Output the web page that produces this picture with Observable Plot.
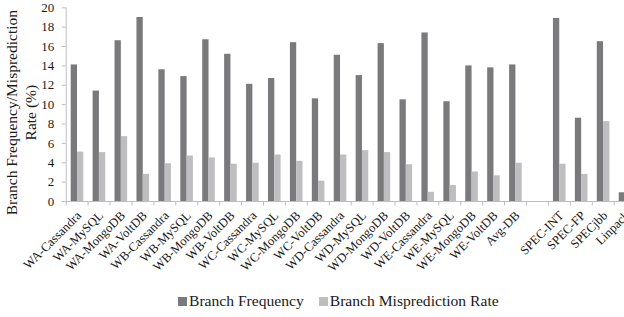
<!DOCTYPE html>
<html>
<head>
<meta charset="utf-8">
<script src="https://cdn.jsdelivr.net/npm/d3@7"></script>
<script src="https://cdn.jsdelivr.net/npm/@observablehq/plot@0.6"></script>
<style>
  html, body { margin: 0; padding: 0; background: #fff; overflow: hidden; }
  #wrap { position: relative; width: 624px; height: 317px; overflow: hidden; }
  #legend { position: absolute; left: 178px; top: 292px; display: flex; align-items: center;
    font-family: "Liberation Serif", "Times New Roman", serif; font-size: 15.6px; color: #1a1a1a; line-height: 18px; white-space: nowrap; }
  #legend .sw { display: inline-block; width: 9px; height: 9px; margin-right: 2px; }
  #legend .item { display: flex; align-items: center; margin-right: 15px; }
</style>
</head>
<body>
<div id="wrap"></div>
<script>
const categories = ["WA-Cassandra","WA-MySQL","WA-MongoDB","WA-VoltDB",
  "WB-Cassandra","WB-MySQL","WB-MongoDB","WB-VoltDB",
  "WC-Cassandra","WC-MySQL","WC-MongoDB","WC-VoltDB",
  "WD-Cassandra","WD-MySQL","WD-MongoDB","WD-VoltDB",
  "WE-Cassandra","WE-MySQL","WE-MongoDB","WE-VoltDB",
  "Avg-DB","","SPEC-INT","SPEC-FP","SPECjbb","Linpack"];
const branchFrequency = [14.1, 11.4, 16.6, 19.0, 13.6, 12.9, 16.7, 15.2, 12.1, 12.7, 16.4, 10.6,
  15.1, 13.0, 16.3, 10.5, 17.4, 10.3, 14.0, 13.8, 14.1, null, 18.9, 8.6, 16.5, 0.9];
const branchMisprediction = [5.1, 5.05, 6.7, 2.8, 3.9, 4.7, 4.5, 3.85, 3.95, 4.8, 4.15, 2.1,
  4.8, 5.25, 5.05, 3.8, 0.95, 1.65, 3.05, 2.65, 3.95, null, 3.85, 2.8, 8.25, null];
const yTicks = [0, 2, 4, 6, 8, 10, 12, 14, 16, 18, 20];
const seriesNames = ["Branch Frequency", "Branch Misprediction Rate"];
const seriesColors = ["#7a7a7c", "#bebec0"];
const yTitle = "Branch Frequency/Misprediction\nRate (%)";

const rows = categories.map((c, i) => ({cat: c, freq: branchFrequency[i], mis: branchMisprediction[i]}));

const bw = 21.92;
const x0 = 65.7;
const axisColor = "#bdbdbd";
const font = "Liberation Serif";

const chart = Plot.plot({
  width: 624,
  height: 317,
  marginLeft: x0,
  marginRight: 0,
  marginTop: 7.3,
  marginBottom: 116,
  style: {fontFamily: font, background: "#fff", color: "#1a1a1a"},
  x: {type: "band", domain: categories, range: [x0, x0 + bw * categories.length], padding: 0, round: false},
  y: {domain: [0, 20], range: [201, 7.3]},
  marks: [
    Plot.barY(rows, {x: "cat", y: "freq", fill: seriesColors[0], insetLeft: 5, insetRight: bw - 11.3}),
    Plot.barY(rows, {x: "cat", y: "mis", fill: seriesColors[1], insetLeft: 11.3, insetRight: bw - 17.6}),
    Plot.ruleY([0], {stroke: axisColor, strokeWidth: 1}),
    Plot.ruleX([categories[0]], {x: d => d, y1: 0, y2: 20, dx: -bw / 2, stroke: axisColor}),
    Plot.axisX({ticks: categories, tickSize: 4.5, tickFormat: () => "", dx: -bw / 2, stroke: axisColor, label: null}),
    Plot.axisX({ticks: categories, tickSize: 0, tickPadding: 12, tickRotate: -45, dx: 2, fontSize: 12.6, fill: "#1a1a1a", label: null}),
    Plot.axisY({ticks: yTicks, tickSize: 4, tickPadding: 8, fontSize: 13, stroke: axisColor, fill: "#1a1a1a", label: null}),
    Plot.text([yTitle], {text: d => d, frameAnchor: "left", rotate: -90, fontSize: 15.5, lineHeight: 1.2,
      lineAnchor: "middle", textAnchor: "middle", dx: 20.3 - x0, dy: 8, fill: "#1a1a1a"})
  ]
});
document.getElementById("wrap").appendChild(chart);

const legend = document.createElement("div");
legend.id = "legend";
seriesNames.forEach((name, i) => {
  const item = document.createElement("span");
  item.className = "item";
  const sw = document.createElement("span");
  sw.className = "sw";
  sw.style.background = seriesColors[i];
  item.appendChild(sw);
  item.appendChild(document.createTextNode(name));
  legend.appendChild(item);
});
document.getElementById("wrap").appendChild(legend);
</script>
</body>
</html>
